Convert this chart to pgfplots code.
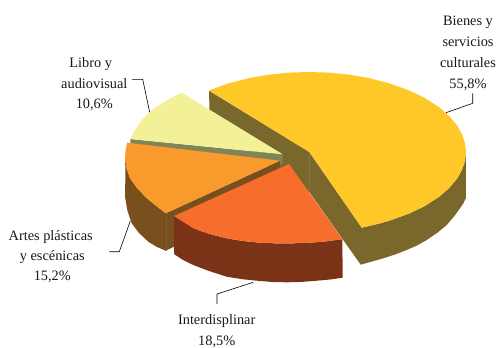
\documentclass[border=0pt]{standalone}
\usepackage{pgfplots}
\pgfplotsset{compat=1.18}
\usepackage{fontspec}
\setmainfont{Liberation Serif}
\definecolor{cY}{HTML}{FFC829}
\definecolor{cYw}{HTML}{7A672B}
\definecolor{cL}{HTML}{F3F198}
\definecolor{cLw}{HTML}{7F8556}
\definecolor{cO}{HTML}{F99B2C}
\definecolor{cOw}{HTML}{7A4F1E}
\definecolor{cR}{HTML}{F66D2C}
\definecolor{cRw}{HTML}{7A3317}
\definecolor{cS}{HTML}{857444}
\definecolor{cS2}{HTML}{855E30}
\definecolor{cT}{HTML}{1A1718}
\tikzset{lab/.style={anchor=base, inner sep=0pt, font=\fontsize{14.4}{16}\selectfont, text=cT}}
\begin{document}
\begin{tikzpicture}
\begin{axis}[
  anchor=south west, at={(0,0)},
  width=499bp, height=347bp, scale only axis,
  xmin=0, xmax=499, ymin=0, ymax=347, y dir=reverse,
  hide axis, clip=false,
  every axis plot/.append style={line join=round},
]
% yellow walls (inner and rim, one outline)
\addplot[fill=cYw, draw=none] coordinates {(209,90.7)(309.3,152)(361.7,227.7)(379,223.6)(389,220.8)(409,213.6)(424,206.5)(439,196.9)(449,188.2)(457,178.7)(462,169.9)(465,161)(465.8,152)
 (465.8,198.3)(463.5,203)(460,208.3)(454,216.5)(446.7,225)(437,233)(426.7,240)(417,245.5)(406.7,250)(395,254.5)(383.3,258.3)(372,261.5)(360.7,264.7)(309.3,192)(300,195)(209.5,110)} --cycle;
\addplot[cS, line width=0.25pt] coordinates {(309.3,152)(309.3,192)};
% yellow top
\addplot[fill=cY, draw=none] coordinates {(209,90.4)(229,83.2)(249,78.1)(269,74.6)(289,72.6)(309,72)(329,72.6)(349,74.6)(369,78.1)(389,83.2)(409,90.4)(424,97.5)(439,107.1)(449,115.8)(457,125.3)(462,134.1)(465,143)(466,152)
 (465,161)(462,169.9)(457,178.7)(449,188.2)(439,196.9)(424,206.5)(409,213.6)(389,220.8)(379,223.6)(361.7,227.7)(309.3,152)} --cycle;
% light slice side
\addplot[fill=cLw, draw=none] coordinates {(130.3,139)(282.7,154.3)(282.7,163.5)(278,166)(130.3,150)} --cycle;
% light slice top
\addplot[fill=cL, draw=none] coordinates {(130.3,139)(135,130)(141,121)(148.3,113.3)(156,107)(165,101.7)(173,97)(181.7,92.7)(282.7,154.3)} --cycle;
% orange walls (one outline)
\addplot[fill=cOw, draw=none] coordinates {(125,160)(125.5,170)(125,196.7)(127.5,211)(131.7,223.3)(139,233)(148.3,241.7)(156,246.5)(165.7,250.7)(174,246.7)(280,170)(280,160.7)(165.7,213.3)(145,196.7)(130,178.3)} --cycle;
\addplot[cS2, line width=0.25pt] coordinates {(165.7,213.3)(165.7,250.7)};
% orange top
\addplot[fill=cO, draw=none] coordinates {(127.2,142.7)(125.5,151)(125,160)(126.5,169)(130,178.3)(136.5,187.5)(145,196.7)(155,205)(165.7,213.3)(280,160.7)} --cycle;
% red wall
\addplot[fill=cRw, draw=none] coordinates {(174,216)(193.3,228.3)(209,233.8)(226.7,238.3)(243,241)(260,242.7)(277,243.4)(293.3,243.3)(308,242.8)(323.3,241.7)(342.3,239.2)
 (342.7,277.7)(330,279.5)(316.7,280.7)(302,281.9)(286.7,282.3)(273,282)(260,281)(243,279.3)(226.7,276.7)(209,271)(193.3,265)(183,260)(174,254)} --cycle;
% red top
\addplot[fill=cR, draw=none] coordinates {(289,164)(174,216)(193.3,228.3)(209,233.8)(226.7,238.3)(243,241)(260,242.7)(277,243.4)(293.3,243.3)(308,242.8)(323.3,241.7)(342.3,239.2)} --cycle;
% leaders
\addplot[black, line width=0.6pt] coordinates {(446,112.7)(472.7,103.3)(472.7,93.3)};
\addplot[black, line width=0.6pt] coordinates {(132,79.3)(142.7,79.3)(149.7,112.3)};
\addplot[black, line width=0.6pt] coordinates {(109.3,251.7)(119.3,251.7)(130.3,221)};
\addplot[black, line width=0.6pt] coordinates {(253.3,282.3)(217,294)(217,304)};
% labels
\node[lab] at (axis cs:468,25) {Bienes y};
\node[lab] at (axis cs:468,46) {servicios};
\node[lab] at (axis cs:468,67.3) {culturales};
\node[lab] at (axis cs:468,88.3) {55,8\%};
\node[lab] at (axis cs:90.7,67.3) {Libro y};
\node[lab] at (axis cs:94.3,88.3) {audiovisual};
\node[lab] at (axis cs:94.3,108.3) {10,6\%};
\node[lab] at (axis cs:50.7,240) {Artes plásticas};
\node[lab] at (axis cs:52.3,260.3) {y escénicas};
\node[lab] at (axis cs:52.3,280.7) {15,2\%};
\node[lab] at (axis cs:216.7,324) {Interdisplinar};
\node[lab] at (axis cs:216.7,345.3) {18,5\%};
\end{axis}
\useasboundingbox (0,0) rectangle (499bp,347bp);
\end{tikzpicture}
\end{document}
